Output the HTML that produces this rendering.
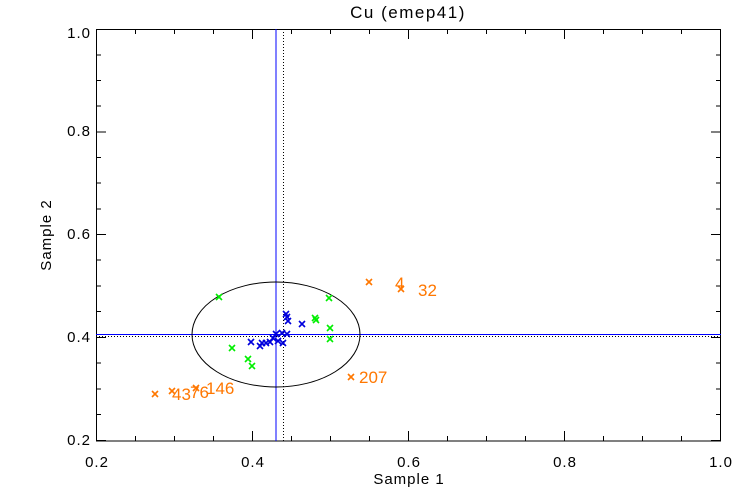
<!DOCTYPE html>
<html><head><style>body{margin:0;background:#fff}svg{display:block}</style></head><body>
<svg width="750" height="500" viewBox="0 0 750 500" xmlns="http://www.w3.org/2000/svg" font-family="Liberation Sans, sans-serif">
<rect width="750" height="500" fill="#fff"/>
<g stroke="#000" stroke-width="1" fill="none">
<rect x="96.5" y="29.5" width="624" height="411.5"/>
</g>
<g stroke="#000" stroke-width="1">
<path d="M96.5 441v-10M135.5 441v-5M174.5 441v-5M213.5 441v-5M252.5 441v-10M291.5 441v-5M330.5 441v-5M369.5 441v-5M408.5 441v-10M447.5 441v-5M486.5 441v-5M525.5 441v-5M564.5 441v-10M603.5 441v-5M642.5 441v-5M681.5 441v-5
M96.5 29v10M135.5 29v5M174.5 29v5M213.5 29v5M252.5 29v10M291.5 29v5M330.5 29v5M369.5 29v5M408.5 29v10M447.5 29v5M486.5 29v5M525.5 29v5M564.5 29v10M603.5 29v5M642.5 29v5M681.5 29v5"/>
<path d="M96 440.5h10M96 414.5h5M96 389h5M96 363h5M96 337.5h10M96 311.5h5M96 286h5M96 260h5M96 234.5h10M96 209h5M96 183h5M96 157.5h5M96 132h10M96 106h5M96 80.5h5M96 55h5
M721 440.5h-10M721 414.5h-5M721 389h-5M721 363h-5M721 337.5h-10M721 311.5h-5M721 286h-5M721 260h-5M721 234.5h-10M721 209h-5M721 183h-5M721 157.5h-5M721 132h-10M721 106h-5M721 80.5h-5M721 55h-5"/>
</g>
<g font-size="15" fill="#000" letter-spacing="1">
<text x="408" y="18" text-anchor="middle" font-size="17" letter-spacing="1.5">Cu (emep41)</text>
<g text-anchor="end"><text x="91" y="445">0.2</text><text x="91" y="342">0.4</text><text x="91" y="239">0.6</text><text x="91" y="136">0.8</text><text x="91" y="38">1.0</text></g>
<g text-anchor="middle"><text x="97" y="467">0.2</text><text x="253" y="467">0.4</text><text x="409" y="467">0.6</text><text x="565" y="467">0.8</text><text x="721" y="467">1.0</text>
<text x="409" y="484">Sample 1</text>
<text transform="translate(51,235) rotate(-90)">Sample 2</text></g>
</g>
<line x1="276" y1="29" x2="276" y2="441" stroke="#0000ff"/>
<line x1="96" y1="334.5" x2="721" y2="334.5" stroke="#0000ff"/>
<line x1="283.5" y1="29" x2="283.5" y2="441" stroke="#000" stroke-dasharray="1,2"/>
<line x1="96" y1="336.5" x2="721" y2="336.5" stroke="#000" stroke-dasharray="1,2"/>
<ellipse cx="276" cy="334.5" rx="84" ry="52.5" fill="none" stroke="#000"/>
<defs><path id="x" d="M-3 -3L3 3M-3 3L3 -3" stroke-width="1.6"/></defs>
<g stroke="#00ee00">
<use href="#x" x="219" y="297"/><use href="#x" x="329" y="298"/><use href="#x" x="315" y="318"/><use href="#x" x="316" y="320"/><use href="#x" x="330" y="328"/><use href="#x" x="330" y="339"/><use href="#x" x="232" y="348"/><use href="#x" x="248" y="359"/><use href="#x" x="252" y="366"/>
</g>
<g stroke="#0000dd">
<use href="#x" x="286" y="314"/><use href="#x" x="287" y="317"/><use href="#x" x="288" y="321"/><use href="#x" x="302" y="324"/><use href="#x" x="276" y="334"/><use href="#x" x="282" y="333"/><use href="#x" x="287" y="334"/><use href="#x" x="251" y="342"/><use href="#x" x="262" y="343"/><use href="#x" x="260" y="346"/><use href="#x" x="266" y="343"/><use href="#x" x="270" y="342"/><use href="#x" x="273" y="338"/><use href="#x" x="283" y="343"/><use href="#x" x="278" y="341"/>
</g>
<g stroke="#ff7700"><use href="#x" x="369" y="282"/><use href="#x" x="401" y="289"/><use href="#x" x="351" y="377"/><use href="#x" x="155" y="394"/><use href="#x" x="172" y="391"/><use href="#x" x="196" y="388"/></g>
<g fill="#ff7700" font-size="17"><text x="395" y="289">4</text><text x="418" y="296">32</text><text x="359" y="383">207</text><text x="172" y="400">43</text><text x="190" y="398">76</text><text x="206" y="394">146</text></g>
</svg>
</body></html>
